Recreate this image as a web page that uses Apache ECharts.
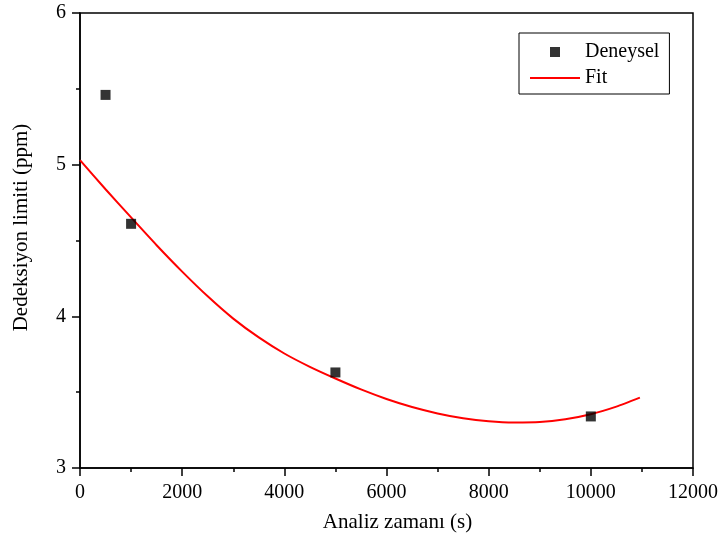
<!DOCTYPE html>
<html>
<head>
<meta charset="utf-8">
<script src="https://cdn.jsdelivr.net/npm/echarts@6/dist/echarts.min.js"></script>
<style>
  html, body { margin: 0; padding: 0; background: #fff; }
  #chart { width: 722px; height: 541px; }
</style>
</head>
<body>
<div id="chart"></div>
<script>
// Measured detection limits
const measTime = [500, 1000, 5000, 10000];
const measLimit = [5.46, 4.61, 3.63, 3.34];

// Fitted curve, sampled along the analysis time
const fitTime = [0, 500, 1000, 1500, 2000, 2500, 3000, 3500, 4000, 4500, 5000, 5500,
  6000, 6500, 7000, 7500, 8000, 8500, 9000, 9500, 10000, 10500, 10960];
const fitLimit = [5.03, 4.838, 4.652, 4.469, 4.295, 4.132, 3.985, 3.861, 3.755, 3.667, 3.59, 3.518,
  3.455, 3.402, 3.36, 3.328, 3.308, 3.30, 3.303, 3.322, 3.355, 3.405, 3.464];

const xTicks = [0, 2000, 4000, 6000, 8000, 10000, 12000];
const yTicks = [3, 4, 5, 6];

const FONT = '"Liberation Serif", "Times New Roman", serif';

const chart = echarts.init(document.getElementById('chart'), null, { renderer: 'canvas' });

const axisCommon = {
  axisLine: { show: true, onZero: false, lineStyle: { color: '#000', width: 1.5 } },
  axisTick: { show: true, inside: false, length: 8, lineStyle: { color: '#000', width: 1.5 } },
  minorTick: { show: true, splitNumber: 2, length: 4, lineStyle: { color: '#000', width: 1.5 } },
  splitLine: { show: false },
  axisLabel: { color: '#000', fontFamily: FONT, fontSize: 20, margin: 14, formatter: v => String(v) },
  nameTextStyle: { color: '#000', fontFamily: FONT, fontSize: 21 }
};

chart.setOption({
  backgroundColor: '#fff',
  animation: false,
  grid: {
    left: 80, right: 29, top: 13, bottom: 73,
    show: true, borderColor: '#000', borderWidth: 1.5, backgroundColor: 'transparent'
  },
  legend: {
    left: 519, top: 33,
    orient: 'vertical',
    itemWidth: 50, itemHeight: 10, itemGap: 6,
    padding: [9, 10, 6, 11],
    borderColor: '#000', borderWidth: 1,
    textStyle: { color: '#000', fontFamily: FONT, fontSize: 20, lineHeight: 20 },
    data: [
      { name: 'Deneysel', icon: 'path://M0,0h10v10h-10z' },
      { name: 'Fit', icon: 'path://M0,0h50v2h-50z' }
    ]
  },
  xAxis: Object.assign({}, axisCommon, {
    type: 'value',
    min: xTicks[0], max: xTicks[xTicks.length - 1], interval: 2000,
    name: 'Analiz zamanı (s)',
    nameLocation: 'middle', nameGap: 44,
    nameTextStyle: Object.assign({}, axisCommon.nameTextStyle, { padding: [0, 0, 0, 22] }),
    axisLabel: Object.assign({}, axisCommon.axisLabel, { margin: 15 })
  }),
  yAxis: Object.assign({}, axisCommon, {
    type: 'value',
    min: yTicks[0], max: yTicks[yTicks.length - 1], interval: 1,
    name: 'Dedeksiyon limiti (ppm)',
    nameLocation: 'middle', nameGap: 48,
    nameTextStyle: Object.assign({}, axisCommon.nameTextStyle, { padding: [0, 0, 0, 26] })
  }),
  series: [
    {
      name: 'Deneysel',
      type: 'scatter',
      symbol: 'rect',
      symbolSize: 10,
      itemStyle: { color: '#000' },
      data: measTime.map((t, i) => [t, measLimit[i]]),
      z: 3
    },
    {
      name: 'Fit',
      type: 'line',
      showSymbol: false,
      symbol: 'none',
      smooth: 0.2,
      lineStyle: { color: '#ff0000', width: 2 },
      itemStyle: { color: '#ff0000' },
      data: fitTime.map((t, i) => [t, fitLimit[i]]),
      z: 2
    }
  ]
});
</script>
</body>
</html>
